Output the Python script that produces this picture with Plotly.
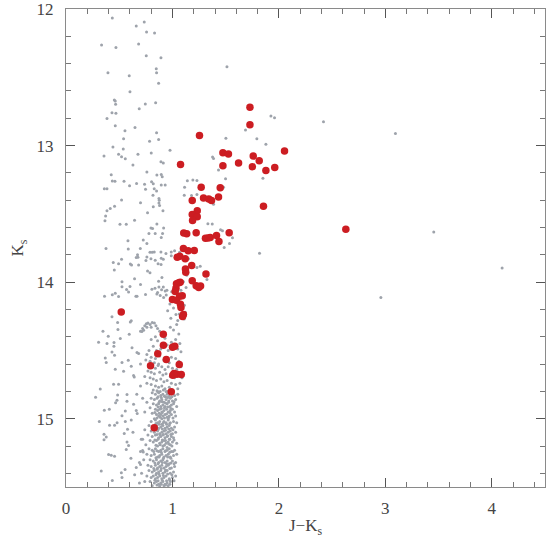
import plotly.graph_objects as go

# Red highlighted stars: (J-Ks, Ks)
red_jk = [1.728, 1.728, 1.254, 2.053, 1.474, 1.526, 1.759, 1.815, 1.621, 1.076,
          1.474, 1.751, 1.961, 1.878, 1.855, 1.270, 1.449, 1.292, 1.341, 1.367,
          1.433, 1.186, 1.233, 1.186, 1.233, 1.189, 1.106, 1.134, 1.223, 1.533,
          1.310, 1.334, 1.355, 1.414, 1.437, 2.629, 1.103, 1.148, 1.205, 1.045,
          1.069, 1.120, 1.181, 1.122, 1.125, 1.315, 1.186, 1.073, 1.038, 1.059,
          1.223, 1.264, 1.247, 1.033, 1.026, 1.092, 1.067, 1.000, 1.038, 1.075,
          1.080, 1.103, 1.095, 0.519, 0.914, 0.915, 1.001, 1.022, 0.862, 0.942,
          0.794, 1.064, 1.015, 1.003, 1.042, 1.083, 0.989, 0.829]
red_k = [12.720, 12.848, 12.927, 13.040, 13.053, 13.061, 13.077, 13.111, 13.128, 13.138,
         13.147, 13.155, 13.160, 13.182, 13.445, 13.306, 13.309, 13.383, 13.392, 13.403,
         13.376, 13.403, 13.478, 13.505, 13.522, 13.548, 13.640, 13.645, 13.639, 13.639,
         13.679, 13.676, 13.674, 13.658, 13.702, 13.612, 13.753, 13.771, 13.769, 13.818,
         13.810, 13.828, 13.879, 13.903, 13.927, 13.940, 13.989, 14.000, 14.011, 14.005,
         14.027, 14.029, 14.039, 14.045, 14.068, 14.099, 14.103, 14.128, 14.132, 14.161,
         14.185, 14.237, 14.251, 14.218, 14.381, 14.462, 14.476, 14.469, 14.524, 14.566,
         14.612, 14.603, 14.669, 14.681, 14.674, 14.676, 14.802, 15.067]

# Gray field/cluster stars, sparse upper part: (J-Ks, Ks)
gray_upper = [
    (0.435, 12.066), (0.735, 12.095), (0.660, 12.125), (0.757, 12.168), (0.832, 12.176),
    (0.334, 12.264), (0.469, 12.281), (0.682, 12.256), (0.754, 12.342), (0.892, 12.357),
    (0.394, 12.467), (0.594, 12.489), (0.848, 12.437), (0.851, 12.467), (0.870, 12.544),
    (0.601, 12.606), (0.454, 12.667), (0.463, 12.674), (0.466, 12.698), (0.432, 12.760),
    (0.469, 12.764), (0.385, 12.801), (0.688, 12.730), (0.745, 12.696), (0.842, 12.686),
    (0.463, 12.855), (0.648, 12.867), (0.554, 12.892), (0.851, 12.906), (0.541, 12.950),
    (0.870, 12.955), (0.785, 12.969), (0.441, 13.011), (0.538, 13.026), (0.977, 13.035),
    (0.801, 13.055), (0.494, 13.064), (0.676, 13.064), (0.357, 13.077), (0.522, 13.082),
    (0.557, 13.097), (1.512, 12.423), (1.925, 12.784), (1.959, 12.796), (2.419, 12.826),
    (3.095, 12.911), (3.455, 13.632), (4.097, 13.897), (2.958, 14.112), (1.686, 12.886),
    (1.793, 12.950), (1.878, 12.991), (1.502, 12.947), (1.377, 13.084), (1.386, 13.094),
    (1.433, 13.179), (1.850, 13.240), (1.499, 13.243), (1.140, 13.258), (1.192, 13.253),
    (1.230, 13.255), (1.114, 13.306), (1.111, 13.363), (1.179, 13.365), (1.230, 13.358),
    (1.386, 13.429), (1.333, 13.573), (1.374, 13.575), (1.452, 13.617), (1.470, 13.624),
    (1.486, 13.746), (1.564, 13.675), (1.536, 13.717), (1.818, 13.788), (1.480, 13.306),
    (0.385, 13.316), (0.360, 13.316), (0.425, 13.214), (0.435, 13.260), (0.460, 13.262),
    (0.545, 13.262), (0.629, 13.143), (0.663, 13.277), (0.760, 13.194), (0.892, 13.119),
    (0.914, 13.128), (0.854, 13.216), (0.895, 13.211), (0.904, 13.229), (0.804, 13.265),
    (0.820, 13.280), (0.738, 13.284), (0.747, 13.319), (0.829, 13.316), (0.851, 13.333),
    (0.895, 13.289), (0.932, 13.289), (0.817, 13.363), (0.873, 13.387), (0.876, 13.401),
    (0.873, 13.421), (0.879, 13.438), (0.911, 13.478), (0.522, 13.399), (0.456, 13.445),
    (0.416, 13.460), (0.385, 13.478), (0.372, 13.516), (0.366, 13.551), (0.507, 13.577),
    (0.566, 13.577), (0.644, 13.546), (0.700, 13.419), (0.766, 13.492), (0.820, 13.448),
    (0.798, 13.604), (0.813, 13.607), (0.854, 13.575), (0.838, 13.643), (0.779, 13.643),
    (0.895, 13.673), (0.907, 13.643), (0.917, 13.604), (0.376, 13.753), (0.582, 13.697),
    (0.585, 13.758), (0.698, 13.753), (0.726, 13.692), (0.672, 13.800), (0.660, 13.819),
    (0.789, 13.782), (0.810, 13.782), (0.829, 13.780), (0.760, 13.815), (0.798, 13.829),
    (0.838, 13.840), (0.895, 13.825), (0.914, 13.832), (0.444, 13.856), (0.494, 13.866),
    (0.522, 13.832), (0.616, 13.875), (0.939, 13.790), (0.989, 13.807), (0.597, 13.294),
    (0.760, 13.717), (0.676, 13.817), (0.604, 13.868), (0.682, 13.875), (0.751, 13.841),
    (0.865, 13.866), (0.893, 13.870), (0.454, 13.912), (0.644, 13.976), (0.526, 13.998),
    (0.526, 14.034), (0.601, 14.031), (0.700, 14.017), (0.989, 13.780), (1.020, 13.771),
    (1.067, 13.782), (0.892, 13.780), (1.151, 13.829), (1.167, 13.868), (1.230, 13.892),
    (1.261, 13.883), (1.324, 13.980), (1.134, 13.949), (1.103, 13.998), (1.128, 14.039),
    (1.080, 14.060), (1.100, 14.100), (1.112, 14.170), (1.121, 14.220), (1.110, 14.270),
    (1.024, 14.050), (0.993, 14.070), (0.854, 14.087), (0.885, 14.097), (0.807, 14.052),
    (0.917, 14.113), (1.033, 14.237), (1.064, 14.233), (0.901, 13.966), (0.870, 13.993),
    (0.836, 14.045), (0.873, 14.035), (0.914, 14.035), (0.898, 14.055), (0.932, 14.065),
    (0.860, 14.075), (0.435, 14.093), (0.494, 14.105), (0.657, 14.103), (0.747, 14.090),
    (0.948, 14.059), (0.942, 14.095), (0.766, 13.919), (0.789, 13.932), (0.362, 14.103),
    (0.463, 14.081), (0.569, 14.053), (0.588, 14.073), (0.667, 14.103), (0.976, 14.160),
    (1.010, 14.190), (0.955, 14.210), (1.050, 14.280), (0.985, 14.265),
]

# Gray stars, sparse left part below Ks = 14.1
gray_left = [
    (0.432, 14.254), (0.485, 14.295), (0.613, 14.283), (0.347, 14.359), (0.488, 14.347),
    (0.397, 14.396), (0.510, 14.413), (0.306, 14.440), (0.451, 14.442), (0.432, 14.511),
    (0.456, 14.535), (0.369, 14.555), (0.463, 14.637), (0.526, 14.588), (0.585, 14.571),
    (0.378, 14.588), (0.635, 14.683), (0.322, 14.782), (0.278, 14.842), (0.485, 14.826),
    (0.573, 14.823), (0.466, 14.884), (0.360, 14.938), (0.407, 14.930), (0.635, 14.894),
    (0.557, 14.943), (0.669, 14.962), (0.313, 15.021), (0.456, 15.048), (0.578, 15.077),
    (0.357, 15.114), (0.378, 15.133), (0.547, 15.108), (0.573, 15.170), (0.629, 15.099),
    (0.707, 15.150), (0.400, 15.262), (0.425, 15.267), (0.456, 15.275), (0.610, 15.289),
    (0.331, 15.382), (0.435, 15.453), (0.526, 15.431), (0.660, 15.358), (0.566, 15.226),
    (0.604, 14.291), (0.594, 14.381), (0.713, 14.362), (0.729, 14.352), (0.682, 14.522),
    (0.667, 14.515), (0.541, 14.652), (0.613, 14.615), (0.641, 14.694), (0.447, 14.748),
    (0.494, 14.748), (0.573, 14.872), (0.479, 14.864), (0.526, 14.979), (0.660, 14.940),
    (0.613, 15.010), (0.557, 15.020), (0.409, 15.048), (0.357, 15.154), (0.588, 15.197),
    (0.720, 15.233), (0.726, 15.243), (0.385, 14.450), (0.450, 14.470), (0.690, 15.320),
    (0.700, 15.335), (0.520, 15.395), (0.555, 15.372), (0.645, 15.410), (0.690, 15.470),
    (0.480, 15.030), (0.620, 14.480), (0.700, 14.600), (0.665, 14.820), (0.700, 14.760),
]

# Gray stars, dense turnoff / main-sequence clump
gray_dense = [
    (0.72, 14.34), (0.74, 14.32), (0.755, 14.305), (0.77, 14.30), (0.79, 14.31), (0.81, 14.295),
    (0.83, 14.30), (0.845, 14.32), (0.86, 14.34), (0.76, 14.33), (0.80, 14.33), (0.88, 14.36),
    (0.70, 14.36), (0.90, 14.38), (0.84, 14.40), (0.93, 14.41), (0.98, 14.33), (1.01, 14.35),
    (1.04, 14.31), (1.06, 14.38), (1.03, 14.42), (0.99, 14.44), (1.07, 14.45), (0.86, 14.43),
    (0.80, 14.42), (0.95, 14.46), (0.82, 14.47), (0.78, 14.50), (0.85, 14.50), (0.89, 14.49),
    (0.96, 14.50), (1.05, 14.49), (1.08, 14.51), (0.76, 14.53), (0.80, 14.55), (0.84, 14.56),
    (0.88, 14.54), (0.92, 14.57), (0.99, 14.55), (1.03, 14.56), (1.06, 14.58), (0.79, 14.58),
    (0.83, 14.59), (0.75, 14.57), (0.97, 14.59), (0.87, 14.60), (0.78, 14.61), (0.81, 14.62),
    (0.84, 14.63), (0.865, 14.61), (0.90, 14.62), (0.93, 14.64), (0.96, 14.62), (1.00, 14.63),
    (1.04, 14.64), (1.08, 14.62), (0.77, 14.65), (0.80, 14.66), (0.83, 14.67), (0.88, 14.66),
    (0.91, 14.68), (0.94, 14.67), (0.98, 14.69), (1.02, 14.70), (1.06, 14.68), (1.09, 14.70),
    (0.79, 14.70), (0.82, 14.71), (0.85, 14.72), (0.89, 14.71), (0.92, 14.73), (0.95, 14.72),
    (0.99, 14.74), (1.03, 14.75), (1.07, 14.74), (0.80, 14.75), (0.84, 14.76), (0.87, 14.77),
    (0.90, 14.76), (0.93, 14.78), (0.97, 14.77), (1.00, 14.79), (1.05, 14.78), (0.82, 14.79),
    (0.86, 14.80), (0.94, 14.80), (0.76, 14.74), (0.74, 14.69),
    (0.81, 14.81), (0.84, 14.82), (0.87, 14.81), (0.89, 14.83), (0.91, 14.82), (0.935, 14.84),
    (0.95, 14.82), (0.97, 14.835), (0.99, 14.81), (1.02, 14.83), (1.05, 14.82), (0.80, 14.85),
    (0.83, 14.86), (0.855, 14.85), (0.88, 14.87), (0.90, 14.86), (0.92, 14.88), (0.94, 14.86),
    (0.965, 14.87), (0.98, 14.85), (1.00, 14.87), (1.03, 14.86), (0.82, 14.89), (0.85, 14.90),
    (0.87, 14.89), (0.89, 14.91), (0.91, 14.90), (0.93, 14.91), (0.95, 14.89), (0.975, 14.91),
    (0.99, 14.90), (1.01, 14.89), (1.04, 14.91), (0.79, 14.92), (0.84, 14.93), (0.86, 14.94),
    (0.88, 14.93), (0.90, 14.95), (0.92, 14.94), (0.945, 14.93), (0.96, 14.95), (0.98, 14.94),
    (1.00, 14.93), (1.02, 14.95), (0.81, 14.96), (0.85, 14.97), (0.87, 14.98), (0.89, 14.97),
    (0.91, 14.98), (0.93, 14.97), (0.95, 14.99), (0.97, 14.98), (0.99, 14.97), (1.03, 14.98),
    (0.83, 15.00), (0.90, 15.00), (0.96, 15.00), (0.76, 14.88), (0.74, 14.95), (0.72, 14.85),
    (0.80, 15.02), (0.84, 15.01), (0.86, 15.03), (0.88, 15.02), (0.90, 15.04), (0.92, 15.02),
    (0.94, 15.03), (0.96, 15.01), (0.98, 15.03), (1.01, 15.02), (1.04, 15.03), (0.78, 15.05),
    (0.82, 15.06), (0.85, 15.05), (0.87, 15.07), (0.89, 15.06), (0.91, 15.05), (0.93, 15.07),
    (0.95, 15.06), (0.97, 15.05), (0.99, 15.07), (1.02, 15.06), (0.80, 15.09), (0.83, 15.10),
    (0.86, 15.09), (0.88, 15.11), (0.90, 15.10), (0.92, 15.09), (0.94, 15.11), (0.96, 15.10),
    (0.98, 15.09), (1.00, 15.11), (1.03, 15.10), (0.77, 15.12), (0.81, 15.13), (0.84, 15.12),
    (0.87, 15.14), (0.89, 15.13), (0.91, 15.12), (0.93, 15.14), (0.95, 15.13), (0.97, 15.15),
    (0.99, 15.13), (1.01, 15.14), (0.79, 15.16), (0.82, 15.17), (0.85, 15.16), (0.88, 15.18),
    (0.90, 15.17), (0.92, 15.16), (0.94, 15.18), (0.96, 15.17), (0.98, 15.19), (1.00, 15.17),
    (1.04, 15.18), (0.86, 15.20), (0.91, 15.20), (0.95, 15.21), (0.74, 15.08), (0.72, 15.15),
    (0.75, 15.19),
    (0.78, 15.22), (0.81, 15.23), (0.84, 15.22), (0.87, 15.24), (0.89, 15.23), (0.91, 15.22),
    (0.93, 15.24), (0.95, 15.23), (0.97, 15.22), (0.99, 15.24), (1.02, 15.23), (0.76, 15.26),
    (0.80, 15.27), (0.83, 15.26), (0.86, 15.28), (0.88, 15.27), (0.90, 15.26), (0.92, 15.28),
    (0.94, 15.27), (0.96, 15.26), (0.98, 15.28), (1.01, 15.27), (1.04, 15.26), (0.79, 15.30),
    (0.82, 15.31), (0.85, 15.30), (0.87, 15.32), (0.89, 15.31), (0.91, 15.30), (0.93, 15.32),
    (0.95, 15.31), (0.97, 15.33), (1.00, 15.31), (1.03, 15.32), (0.77, 15.34), (0.80, 15.35),
    (0.84, 15.34), (0.86, 15.36), (0.88, 15.35), (0.90, 15.34), (0.92, 15.36), (0.94, 15.35),
    (0.96, 15.34), (0.99, 15.36), (1.02, 15.35), (0.78, 15.38), (0.81, 15.39), (0.83, 15.38),
    (0.85, 15.40), (0.87, 15.39), (0.89, 15.38), (0.91, 15.40), (0.93, 15.39), (0.95, 15.38),
    (0.98, 15.40), (1.01, 15.39), (0.76, 15.42), (0.80, 15.43), (0.82, 15.42), (0.84, 15.44),
    (0.86, 15.43), (0.88, 15.42), (0.90, 15.44), (0.92, 15.43), (0.94, 15.42), (0.97, 15.44),
    (1.00, 15.43), (1.03, 15.42), (0.79, 15.46), (0.83, 15.47), (0.85, 15.46), (0.87, 15.48),
    (0.89, 15.47), (0.91, 15.46), (0.93, 15.48), (0.95, 15.47), (0.98, 15.46), (0.81, 15.49),
    (0.88, 15.495), (0.92, 15.49), (0.96, 15.49), (0.73, 15.30), (0.71, 15.40), (0.74, 15.46),
    (0.70, 15.24),
]

# Gray stars filling the densest core of the main sequence
gray_core = [
    (0.855, 14.795), (0.885, 14.80), (0.915, 14.79), (0.955, 14.80), (0.985, 14.795),
    (0.865, 14.84), (0.895, 14.845), (0.925, 14.835), (0.955, 14.845), (0.995, 14.84),
    (0.875, 14.88), (0.905, 14.875), (0.935, 14.885), (0.965, 14.88), (1.015, 14.875),
    (0.865, 14.915), (0.895, 14.925), (0.925, 14.92), (0.955, 14.915), (0.985, 14.925),
    (0.835, 14.955), (0.875, 14.96), (0.905, 14.955), (0.945, 14.965), (0.975, 14.955),
    (0.855, 14.995), (0.885, 14.99), (0.925, 14.995), (0.965, 14.99), (1.005, 14.995),
    (0.845, 15.035), (0.875, 15.04), (0.915, 15.03), (0.945, 15.04), (0.975, 15.035),
    (0.835, 15.075), (0.865, 15.08), (0.905, 15.075), (0.935, 15.085), (0.965, 15.075),
    (1.005, 15.08), (0.855, 15.115), (0.885, 15.12), (0.915, 15.115), (0.955, 15.125),
    (0.985, 15.115), (0.835, 15.155), (0.865, 15.15), (0.905, 15.155), (0.935, 15.16),
    (0.975, 15.15), (1.015, 15.155), (0.845, 15.195), (0.885, 15.19), (0.925, 15.195),
    (0.965, 15.185), (0.995, 15.20), (0.825, 15.24), (0.855, 15.235), (0.895, 15.245),
    (0.935, 15.235), (0.975, 15.245), (1.005, 15.24), (0.845, 15.285), (0.875, 15.28),
    (0.915, 15.29), (0.955, 15.28), (0.985, 15.29), (0.835, 15.325), (0.865, 15.33),
    (0.905, 15.32), (0.945, 15.33), (0.985, 15.325), (1.015, 15.33), (0.825, 15.365),
    (0.855, 15.37), (0.895, 15.365), (0.935, 15.375), (0.975, 15.365), (0.845, 15.41),
    (0.875, 15.405), (0.915, 15.415), (0.955, 15.405), (0.995, 15.41), (0.835, 15.45),
    (0.865, 15.455), (0.905, 15.45), (0.945, 15.455), (0.975, 15.45), (1.015, 15.455),
    (0.855, 15.485), (0.895, 15.48), (0.935, 15.485), (0.975, 15.48),
]

x_ticks = [0, 1, 2, 3, 4]
y_ticks = [12, 13, 14, 15]

gray_all = gray_upper + gray_left + gray_dense + gray_core
gx = [p[0] for p in gray_all]
gy = [p[1] for p in gray_all]

fig = go.Figure()
fig.add_trace(go.Scatter(x=gx, y=gy, mode="markers",
                         marker=dict(size=3, color="#9ea3ab", line=dict(width=0)),
                         hoverinfo="skip", showlegend=False))
fig.add_trace(go.Scatter(x=red_jk, y=red_k, mode="markers",
                         marker=dict(size=7.5, color="#cc1d22", line=dict(width=0)),
                         showlegend=False))

axis_font = dict(family="Liberation Serif, DejaVu Serif, serif", size=17, color="#444")
common = dict(showgrid=False, zeroline=False, showline=True, linecolor="#8a8a8a", linewidth=1,
              mirror="allticks", ticks="inside", ticklen=9, tickwidth=1, tickcolor="#555",
              tickfont=axis_font, automargin=False, ticklabeloverflow="allow")

fig.update_xaxes(range=[0, 4.5], tickvals=x_ticks, ticktext=[str(v) for v in x_ticks],
                 minor=dict(dtick=0.2, tick0=0, ticklen=5, ticks="inside", tickcolor="#777"),
                 title=dict(text="J\u2212K<sub>s</sub>", font=axis_font, standoff=4),
                 ticklabelstandoff=6, **common)
fig.update_yaxes(range=[15.5, 12], tickvals=y_ticks, ticktext=[str(v) for v in y_ticks],
                 minor=dict(dtick=0.2, tick0=12, ticklen=5, ticks="inside", tickcolor="#777"),
                 title=dict(text="K<sub>s</sub>", font=axis_font, standoff=8),
                 ticklabelstandoff=8, **common)

fig.update_layout(width=560, height=538, margin=dict(l=66, r=15, t=9, b=51),
                  plot_bgcolor="white", paper_bgcolor="white")

fig.write_html("out.html", config={"displayModeBar": False},
               post_script="document.body.style.margin='0';document.body.style.overflow='hidden';")
